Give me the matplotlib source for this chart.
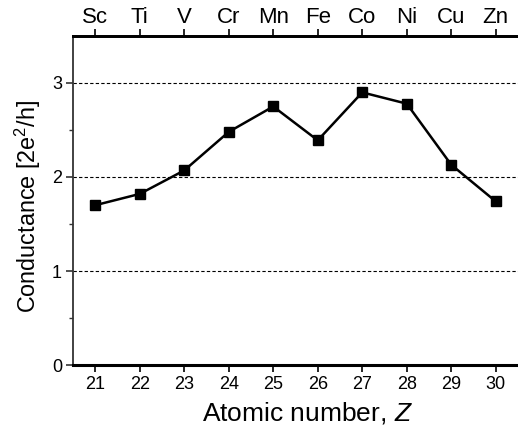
import matplotlib
matplotlib.use("Agg")
import matplotlib.pyplot as plt

plt.rcParams['font.family'] = ['Liberation Sans', 'DejaVu Sans']
plt.rcParams['mathtext.fontset'] = 'custom'
plt.rcParams['mathtext.rm'] = 'Liberation Sans'
plt.rcParams['mathtext.it'] = 'Liberation Sans:italic'

atomic_numbers = [21, 22, 23, 24, 25, 26, 27, 28, 29, 30]
elements = ["Sc", "Ti", "V", "Cr", "Mn", "Fe", "Co", "Ni", "Cu", "Zn"]
conductance = [1.70, 1.82, 2.07, 2.48, 2.75, 2.39, 2.90, 2.78, 2.13, 1.74]
y_ticks = [0, 1, 2, 3]

fig = plt.figure(figsize=(5.18, 4.26), dpi=100)
ax = fig.add_axes([73/518, 61/426, 445/518, 329/426])

for y in [1, 2, 3]:
    ax.axhline(y, color='black', lw=0.8, ls=(0, (3, 2)), zorder=1)

ax.plot(atomic_numbers, conductance, color='black', lw=1.8, marker='s',
        markersize=7.3, markerfacecolor='black', markeredgecolor='black', zorder=3)

ax.set_xlim(20.5, 30.5)
ax.set_ylim(0, 3.5)
ax.set_xticks(atomic_numbers)
ax.set_yticks(y_ticks)
ax.set_yticks([0.5, 1.5, 2.5], minor=True)

ax.spines['right'].set_visible(False)
ax.spines['left'].set_color('#333333')
ax.spines['left'].set_linewidth(1.3)
ax.spines['bottom'].set_linewidth(2.2)
ax.spines['top'].set_linewidth(2.0)

ax.tick_params(axis='x', which='major', direction='out', length=5, width=1.2,
               labelsize=13, pad=3, top=False)
ax.tick_params(axis='y', which='major', direction='out', length=5, width=1.2,
               labelsize=13, pad=3, color='#333333')
ax.tick_params(axis='y', which='minor', direction='out', length=3, width=1.0, color='#333333')

ax.set_xlabel('Atomic number, $\\mathit{Z}$', fontsize=19)
ax.set_ylabel('Conductance [2e$^2$/h]', fontsize=16.8)
ax.xaxis.set_label_coords(0.526, -0.105)
ax.yaxis.set_label_coords(-0.068, 0.482)

ax2 = ax.twiny()
ax2.set_xlim(ax.get_xlim())
ax2.set_xticks(atomic_numbers)
ax2.set_xticklabels(elements)
ax2.tick_params(axis='x', direction='out', length=5, width=1.2, labelsize=16, pad=1)
for s in ['right', 'left', 'bottom']:
    ax2.spines[s].set_visible(False)
ax2.spines['top'].set_linewidth(2.0)

fig.savefig('out.png', dpi=100)
